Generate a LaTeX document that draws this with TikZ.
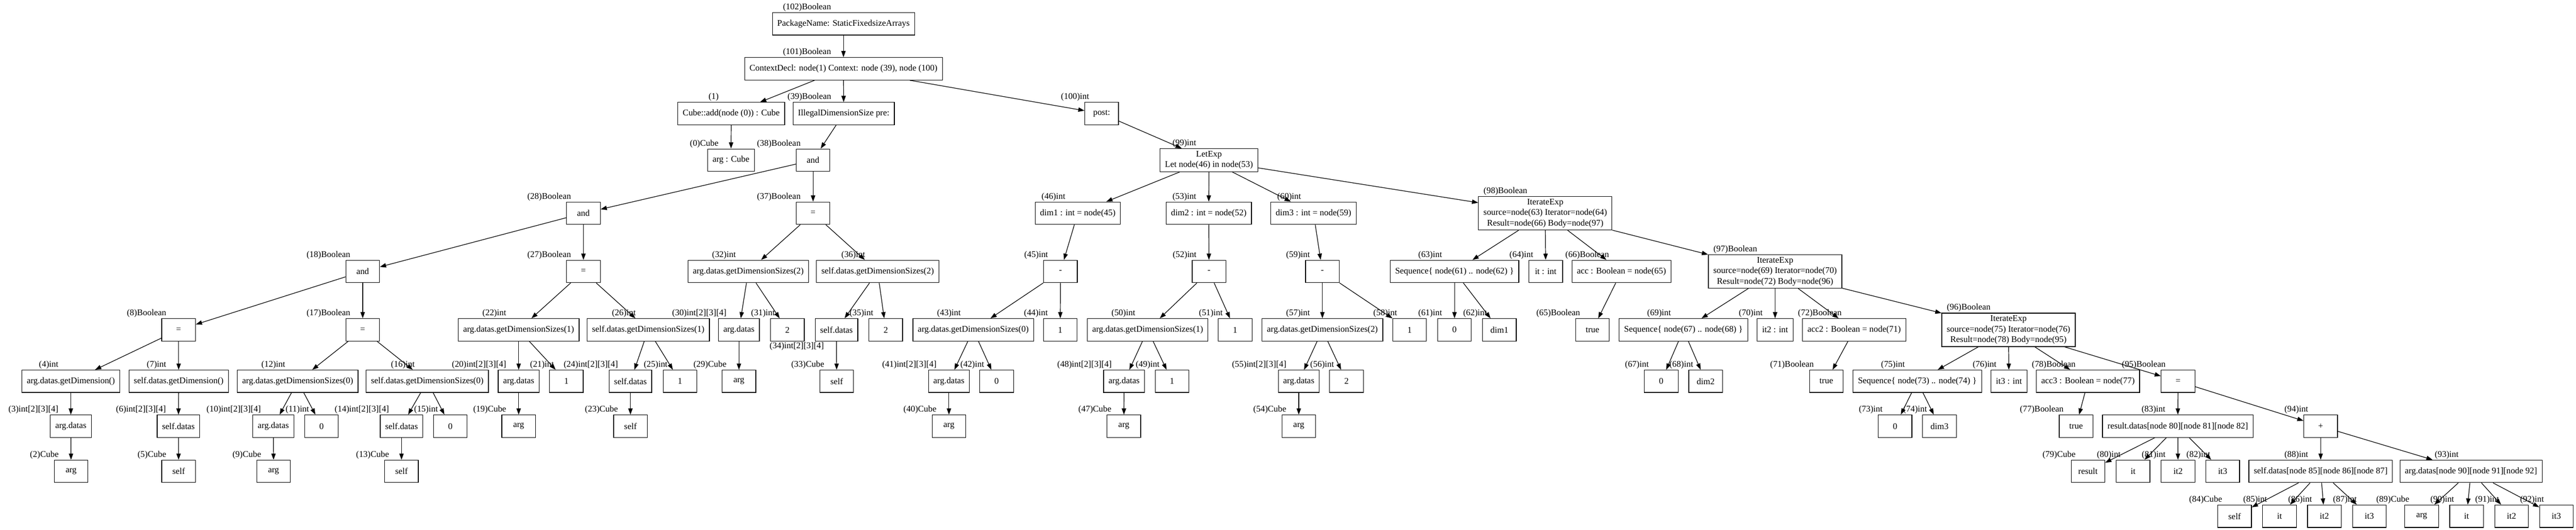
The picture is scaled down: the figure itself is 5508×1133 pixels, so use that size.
\documentclass[tikz,border=0pt]{standalone}
\usepackage{fontspec}
\setmainfont{Liberation Serif}
\usetikzlibrary{arrows.meta}
\pgfdeclarelayer{bg}
\pgfsetlayers{bg,main}
\tikzset{
    every node/.style={rectangle, draw, line width=1pt, minimum width=54pt, minimum height=36pt,
        inner xsep=7.92pt, inner ysep=3.96pt, align=center, font=\fontsize{14pt}{16.8pt}\selectfont}
}
\tikzset{every label/.style={shape=rectangle, draw=none, minimum width=0pt, minimum height=0pt, inner sep=1pt}}
\tikzset{link/.style={line width=1pt, -{Triangle[length=10pt, width=7pt]}}}
\begin{document}
\begin{tikzpicture}[x=0.75pt, y=-0.75pt]
        \useasboundingbox (0,0) rectangle (5508,1133);
        % row 0 to 3
        \node (n102) [label=above left:{(102)Boolean}] at (1803.5, 51) {PackageName: StaticFixedsizeArrays};
        \node (n101) [label=above left:{(101)Boolean}] at (1803.5, 147) {ContextDecl: node(1) Context: node (39), node (100)};
        \node (n1) [label=above left:{(1)}] at (1563.5, 243) {Cube::add(node (0)) : Cube};
        \node (n39) [label=above left:{(39)Boolean}] at (1804, 243) {IllegalDimensionSize pre:};
        \node (n100) [label=above left:{(100)int}] at (2355.5, 243) {post:};
        \node (n0) [label=above left:{(0)Cube}] at (1563, 342.5) {arg : Cube};
        \node (n38) [label=above left:{(38)Boolean}] at (1738.5, 342.5) {and};
        \node (n99) [label=above left:{(99)int}] at (2585, 342.5) {LetExp\\Let node(46) in node(53)};
        % row 4
        \node (n28) [label=above left:{(28)Boolean}] at (1247.5, 456) {and};
        \node (n37) [label=above left:{(37)Boolean}] at (1738.5, 456) {=};
        \node (n46) [label=above left:{(46)int}] at (2304.5, 456) {dim1 : int = node(45)};
        \node (n53) [label=above left:{(53)int}] at (2584.5, 456) {dim2 : int = node(52)};
        \node (n60) [label=above left:{(60)int}] at (2808.5, 456) {dim3 : int = node(59)};
        \node (n98) [label=above left:{(98)Boolean}] at (3304, 456) {IterateExp\\source=node(63) Iterator=node(64)\\Result=node(66) Body=node(97)};
        % row 5
        \node (n18) [label=above left:{(18)Boolean}] at (775.5, 580.5) {and};
        \node (n27) [label=above left:{(27)Boolean}] at (1247.5, 580.5) {=};
        \node (n32) [label=above left:{(32)int}] at (1600, 580.5) {arg.datas.getDimensionSizes(2)};
        \node (n36) [label=above left:{(36)int}] at (1876.5, 580.5) {self.datas.getDimensionSizes(2)};
        \node (n45) [label=above left:{(45)int}] at (2267.5, 580.5) {-};
        \node (n52) [label=above left:{(52)int}] at (2585, 580.5) {-};
        \node (n59) [label=above left:{(59)int}] at (2827.5, 580.5) {-};
        \node (n63) [label=above left:{(63)int}] at (3110, 580.5) {Sequence\{ node(61) .. node(62) \}};
        \node (n64) [label=above left:{(64)int}] at (3305, 580.5) {it : int};
        \node (n66) [label=above left:{(66)Boolean}] at (3467, 580.5) {acc : Boolean = node(65)};
        \node (n97) [label=above left:{(97)Boolean}] at (3795.5, 580.5) {IterateExp\\source=node(69) Iterator=node(70)\\Result=node(72) Body=node(96)};
        % row 6
        \node (n8) [label=above left:{(8)Boolean}] at (382, 705.5) {=};
        \node (n17) [label=above left:{(17)Boolean}] at (775.5, 705.5) {=};
        \node (n22) [label=above left:{(22)int}] at (1109, 705.5) {arg.datas.getDimensionSizes(1)};
        \node (n26) [label=above left:{(26)int}] at (1386, 705.5) {self.datas.getDimensionSizes(1)};
        \node (n30) [label=above left:{(30)int[2][3][4]}] at (1580, 705.5) {arg.datas};
        \node (n31) [label=above left:{(31)int}] at (1683.5, 705.5) {2};
        \node (n34) [label=below left:{(34)int[2][3][4]}] at (1788.5, 705.5) {self.datas};
        \node (n35) [label=above left:{(35)int}] at (1894, 705.5) {2};
        \node (n43) [label=above left:{(43)int}] at (2081, 705.5) {arg.datas.getDimensionSizes(0)};
        \node (n44) [label=above left:{(44)int}] at (2267, 705.5) {1};
        \node (n50) [label=above left:{(50)int}] at (2454, 705.5) {arg.datas.getDimensionSizes(1)};
        \node (n51) [label=above left:{(51)int}] at (2641, 705.5) {1};
        \node (n57) [label=above left:{(57)int}] at (2827.5, 705.5) {arg.datas.getDimensionSizes(2)};
        \node (n58) [label=above left:{(58)int}] at (3014, 705.5) {1};
        \node (n61) [label=above left:{(61)int}] at (3110, 705.5) {0};
        \node (n62) [label=above left:{(62)int}] at (3206, 705.5) {dim1};
        \node (n65) [label=above left:{(65)Boolean}] at (3405, 705.5) {true};
        \node (n69) [label=above left:{(69)int}] at (3599.5, 705.5) {Sequence\{ node(67) .. node(68) \}};
        \node (n70) [label=above left:{(70)int}] at (3795.5, 705.5) {it2 : int};
        \node (n72) [label=above left:{(72)Boolean}] at (3964.5, 705.5) {acc2 : Boolean = node(71)};
        \node (n96) [label=above left:{(96)Boolean}] at (4294.5, 705.5) {IterateExp\\source=node(75) Iterator=node(76)\\Result=node(78) Body=node(95)};
        % row 7
        \node (n4) [label=above left:{(4)int}] at (151.5, 815.5) {arg.datas.getDimension()};
        \node (n7) [label=above left:{(7)int}] at (382, 815.5) {self.datas.getDimension()};
        \node (n12) [label=above left:{(12)int}] at (636.5, 815.5) {arg.datas.getDimensionSizes(0)};
        \node (n16) [label=above left:{(16)int}] at (913.5, 815.5) {self.datas.getDimensionSizes(0)};
        \node (n20) [label=above left:{(20)int[2][3][4]}] at (1109, 815.5) {arg.datas};
        \node (n21) [label=above left:{(21)int}] at (1211, 815.5) {1};
        \node (n24) [label=above left:{(24)int[2][3][4]}] at (1348, 815.5) {self.datas};
        \node (n25) [label=above left:{(25)int}] at (1454, 815.5) {1};
        \node (n29) [label=above left:{(29)Cube}] at (1580, 815.5) {arg};
        \node (n33) [label=above left:{(33)Cube}] at (1789, 815.5) {self};
        \node (n41) [label=above left:{(41)int[2][3][4]}] at (2029, 815.5) {arg.datas};
        \node (n42) [label=above left:{(42)int}] at (2131, 815.5) {0};
        \node (n48) [label=above left:{(48)int[2][3][4]}] at (2403.5, 815.5) {arg.datas};
        \node (n49) [label=above left:{(49)int}] at (2506, 815.5) {1};
        \node (n55) [label=above left:{(55)int[2][3][4]}] at (2777, 815.5) {arg.datas};
        \node (n56) [label=above left:{(56)int}] at (2879, 815.5) {2};
        \node (n67) [label=above left:{(67)int}] at (3552, 815.5) {0};
        \node (n68) [label=above left:{(68)int}] at (3647, 815.5) {dim2};
        \node (n71) [label=above left:{(71)Boolean}] at (3905, 815.5) {true};
        \node (n75) [label=above left:{(75)int}] at (4099.5, 815.5) {Sequence\{ node(73) .. node(74) \}};
        \node (n76) [label=above left:{(76)int}] at (4295.5, 815.5) {it3 : int};
        \node (n78) [label=above left:{(78)Boolean}] at (4464.5, 815.5) {acc3 : Boolean = node(77)};
        \node (n95) [label=above left:{(95)Boolean}] at (4657, 815.5) {=};
        % row 8
        \node (n3) [label=above left:{(3)int[2][3][4]}] at (151.5, 911.5) {arg.datas};
        \node (n6) [label=above left:{(6)int[2][3][4]}] at (381.5, 911.5) {self.datas};
        \node (n10) [label=above left:{(10)int[2][3][4]}] at (584.5, 911.5) {arg.datas};
        \node (n11) [label=above left:{(11)int}] at (687.5, 911.5) {0};
        \node (n14) [label=above left:{(14)int[2][3][4]}] at (858.5, 911.5) {self.datas};
        \node (n15) [label=above left:{(15)int}] at (963, 911.5) {0};
        \node (n19) [label=above left:{(19)Cube}] at (1109, 911.5) {arg};
        \node (n23) [label=above left:{(23)Cube}] at (1348, 911.5) {self};
        \node (n40) [label=above left:{(40)Cube}] at (2029, 911.5) {arg};
        \node (n47) [label=above left:{(47)Cube}] at (2403, 911.5) {arg};
        \node (n54) [label=above left:{(54)Cube}] at (2777, 911.5) {arg};
        \node (n73) [label=above left:{(73)int}] at (4052, 911.5) {0};
        \node (n74) [label=above left:{(74)int}] at (4147, 911.5) {dim3};
        \node (n77) [label=above left:{(77)Boolean}] at (4439, 911.5) {true};
        \node (n83) [label=above left:{(83)int}] at (4656.5, 911.5) {result.datas[node 80][node 81][node 82]};
        \node (n94) [label=above left:{(94)int}] at (4962, 911.5) {+};
        % row 9
        \node (n2) [label=above left:{(2)Cube}] at (152, 1008) {arg};
        \node (n5) [label=above left:{(5)Cube}] at (382, 1008) {self};
        \node (n9) [label=above left:{(9)Cube}] at (585, 1008) {arg};
        \node (n13) [label=above left:{(13)Cube}] at (858.5, 1008) {self};
        \node (n79) [label=above left:{(79)Cube}] at (4464.5, 1008) {result};
        \node (n80) [label=above left:{(80)int}] at (4561, 1008) {it};
        \node (n81) [label=above left:{(81)int}] at (4657, 1008) {it2};
        \node (n82) [label=above left:{(82)int}] at (4752.5, 1008) {it3};
        \node (n88) [label=above left:{(88)int}] at (4962, 1008) {self.datas[node 85][node 86][node 87]};
        \node (n93) [label=above left:{(93)int}] at (5283.5, 1008) {arg.datas[node 90][node 91][node 92]};
        % row 10
        \node (n84) [label=above left:{(84)Cube}] at (4778, 1104) {self};
        \node (n85) [label=above left:{(85)int}] at (4874, 1104) {it};
        \node (n86) [label=above left:{(86)int}] at (4970, 1104) {it2};
        \node (n87) [label=above left:{(87)int}] at (5066, 1104) {it3};
        \node (n89) [label=above left:{(89)Cube}] at (5178, 1104) {arg};
        \node (n90) [label=above left:{(90)int}] at (5274, 1104) {it};
        \node (n91) [label=above left:{(91)int}] at (5370, 1104) {it2};
        \node (n92) [label=above left:{(92)int}] at (5466, 1104) {it3};
        \begin{pgfonlayer}{bg}
                \draw (n102) edge [link] (n101);
                \draw (n101) edge [link] (n1);
                \draw (n101) edge [link] (n39);
                \draw (n101) edge [link] (n100);
                \draw (n1) edge [link] (n0);
                \draw (n39) edge [link] (n38);
                \draw (n38) edge [link] (n28);
                \draw (n38) edge [link] (n37);
                \draw (n28) edge [link] (n18);
                \draw (n28) edge [link] (n27);
                \draw (n18) edge [link] (n8);
                \draw (n18) edge [link] (n17);
                \draw (n8) edge [link] (n4);
                \draw (n8) edge [link] (n7);
                \draw (n4) edge [link] (n3);
                \draw (n3) edge [link] (n2);
                \draw (n7) edge [link] (n6);
                \draw (n6) edge [link] (n5);
                \draw (n17) edge [link] (n12);
                \draw (n17) edge [link] (n16);
                \draw (n12) edge [link] (n10);
                \draw (n12) edge [link] (n11);
                \draw (n10) edge [link] (n9);
                \draw (n16) edge [link] (n14);
                \draw (n16) edge [link] (n15);
                \draw (n14) edge [link] (n13);
                \draw (n27) edge [link] (n22);
                \draw (n27) edge [link] (n26);
                \draw (n22) edge [link] (n20);
                \draw (n22) edge [link] (n21);
                \draw (n20) edge [link] (n19);
                \draw (n26) edge [link] (n24);
                \draw (n26) edge [link] (n25);
                \draw (n24) edge [link] (n23);
                \draw (n37) edge [link] (n32);
                \draw (n37) edge [link] (n36);
                \draw (n32) edge [link] (n30);
                \draw (n32) edge [link] (n31);
                \draw (n30) edge [link] (n29);
                \draw (n36) edge [link] (n34);
                \draw (n36) edge [link] (n35);
                \draw (n34) edge [link] (n33);
                \draw (n100) edge [link] (n99);
                \draw (n99) edge [link] (n46);
                \draw (n99) edge [link] (n53);
                \draw (n99) edge [link] (n60);
                \draw (n99) edge [link] (n98);
                \draw (n46) edge [link] (n45);
                \draw (n45) edge [link] (n43);
                \draw (n45) edge [link] (n44);
                \draw (n43) edge [link] (n41);
                \draw (n43) edge [link] (n42);
                \draw (n41) edge [link] (n40);
                \draw (n53) edge [link] (n52);
                \draw (n52) edge [link] (n50);
                \draw (n52) edge [link] (n51);
                \draw (n50) edge [link] (n48);
                \draw (n50) edge [link] (n49);
                \draw (n48) edge [link] (n47);
                \draw (n60) edge [link] (n59);
                \draw (n59) edge [link] (n57);
                \draw (n59) edge [link] (n58);
                \draw (n57) edge [link] (n55);
                \draw (n57) edge [link] (n56);
                \draw (n55) edge [link] (n54);
                \draw (n98) edge [link] (n63);
                \draw (n98) edge [link] (n64);
                \draw (n98) edge [link] (n66);
                \draw (n98) edge [link] (n97);
                \draw (n63) edge [link] (n61);
                \draw (n63) edge [link] (n62);
                \draw (n66) edge [link] (n65);
                \draw (n97) edge [link] (n69);
                \draw (n97) edge [link] (n70);
                \draw (n97) edge [link] (n72);
                \draw (n97) edge [link] (n96);
                \draw (n69) edge [link] (n67);
                \draw (n69) edge [link] (n68);
                \draw (n72) edge [link] (n71);
                \draw (n96) edge [link] (n75);
                \draw (n96) edge [link] (n76);
                \draw (n96) edge [link] (n78);
                \draw (n96) edge [link] (n95);
                \draw (n75) edge [link] (n73);
                \draw (n75) edge [link] (n74);
                \draw (n78) edge [link] (n77);
                \draw (n95) edge [link] (n83);
                \draw (n95) edge [link] (n94);
                \draw (n83) edge [link] (n79);
                \draw (n83) edge [link] (n80);
                \draw (n83) edge [link] (n81);
                \draw (n83) edge [link] (n82);
                \draw (n94) edge [link] (n88);
                \draw (n94) edge [link] (n93);
                \draw (n88) edge [link] (n84);
                \draw (n88) edge [link] (n85);
                \draw (n88) edge [link] (n86);
                \draw (n88) edge [link] (n87);
                \draw (n93) edge [link] (n89);
                \draw (n93) edge [link] (n90);
                \draw (n93) edge [link] (n91);
                \draw (n93) edge [link] (n92);
        \end{pgfonlayer}
\end{tikzpicture}
\end{document}
